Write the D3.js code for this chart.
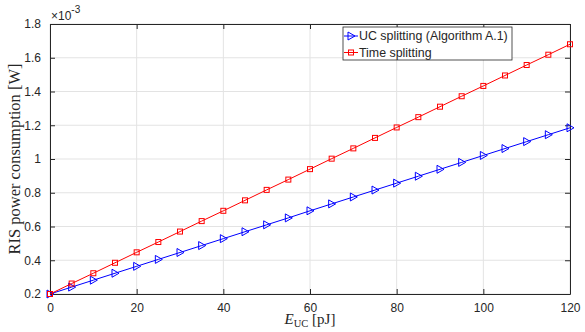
<!DOCTYPE html>
<html lang="en">
<head>
<meta charset="UTF-8">
<script src="https://d3js.org/d3.v7.min.js"></script>
<style>
    body { margin: 0; background: #fff; }
    svg text { font-family: "Liberation Sans", Arial, sans-serif; fill: #262626; }
    .serif { font-family: "Liberation Serif", "DejaVu Serif", serif; }
</style>
<title>RIS power consumption</title>
</head>
<body>
<svg width="585" height="332"></svg>
<script>
    // E_UC values [pJ]
    const energy = [0, 5, 10, 15, 20, 25, 30, 35, 40, 45, 50, 55, 60, 65, 70, 75, 80, 85, 90, 95, 100, 105, 110, 115, 120];
    // power consumption, in units of 1e-3 W
    const ucSplitting = [0.200, 0.241, 0.282, 0.323, 0.364, 0.405, 0.446, 0.487, 0.528, 0.569, 0.610, 0.651, 0.693,
        0.734, 0.775, 0.816, 0.857, 0.898, 0.939, 0.980, 1.021, 1.062, 1.103, 1.144, 1.185];
    const timeSplitting = [0.200, 0.262, 0.323, 0.385, 0.447, 0.508, 0.570, 0.632, 0.693, 0.755, 0.817, 0.878, 0.940,
        1.002, 1.063, 1.125, 1.187, 1.248, 1.310, 1.372, 1.433, 1.495, 1.557, 1.618, 1.680];
    const xTicks = [0, 20, 40, 60, 80, 100, 120];
    const yTicks = [0.2, 0.4, 0.6, 0.8, 1, 1.2, 1.4, 1.6, 1.8];
    const seriesNames = ['UC splitting (Algorithm A.1)', 'Time splitting'];

    const svg = d3.select('svg');
    const margin = { top: 24, right: 15, bottom: 38, left: 50 };
    const width = +svg.attr('width'), height = +svg.attr('height');
    const innerWidth = width - margin.left - margin.right;
    const innerHeight = height - margin.top - margin.bottom;

    const x = d3.scaleLinear().domain([0, 120]).range([0, innerWidth]);
    const y = d3.scaleLinear().domain([0.2, 1.8]).range([innerHeight, 0]);

    const g = svg.append('g').attr('transform', `translate(${margin.left},${margin.top})`);

    // grid
    g.append('g').selectAll('line').data(xTicks).join('line')
        .attr('x1', d => x(d)).attr('x2', d => x(d))
        .attr('y1', 0).attr('y2', innerHeight)
        .attr('stroke', '#e3e3e3').attr('stroke-width', 1);
    g.append('g').selectAll('line').data(yTicks).join('line')
        .attr('y1', d => y(d)).attr('y2', d => y(d))
        .attr('x1', 0).attr('x2', innerWidth)
        .attr('stroke', '#e3e3e3').attr('stroke-width', 1);

    // axes, ticks pointing inwards like matlab
    const styleAxis = sel => {
        sel.select('.domain').attr('stroke', '#262626');
        sel.selectAll('.tick line').attr('stroke', '#262626');
    };
    g.append('g').attr('transform', `translate(0,${innerHeight})`)
        .call(d3.axisBottom(x).tickValues(xTicks).tickSizeInner(-5).tickSizeOuter(0).tickPadding(9))
        .call(styleAxis)
        .call(a => a.selectAll('text').attr('font-size', 12).attr('fill', '#262626').style('font-family', '"Liberation Sans", Arial, sans-serif'));
    g.append('g')
        .call(d3.axisTop(x).tickValues(xTicks).tickSizeInner(-5).tickSizeOuter(0).tickFormat(''))
        .call(styleAxis);
    g.append('g')
        .call(d3.axisLeft(y).tickValues(yTicks).tickSizeInner(-5).tickSizeOuter(0).tickPadding(9).tickFormat(d3.format('~g')))
        .call(styleAxis)
        .call(a => a.selectAll('text').attr('font-size', 12).attr('fill', '#262626').style('font-family', '"Liberation Sans", Arial, sans-serif'));
    g.append('g').attr('transform', `translate(${innerWidth},0)`)
        .call(d3.axisRight(y).tickValues(yTicks).tickSizeInner(-5).tickSizeOuter(0).tickFormat(''))
        .call(styleAxis);

    // exponent label
    const expo = svg.append('text').attr('x', margin.left + 1).attr('y', 20).attr('font-size', 12);
    expo.append('tspan').text('\u00d710');
    expo.append('tspan').attr('dy', -7).attr('font-size', 10).text('-3');

    // series
    const series = [
        { name: seriesNames[0], values: ucSplitting, color: '#0000ff', marker: 'tri' },
        { name: seriesNames[1], values: timeSplitting, color: '#ff0000', marker: 'sq' }
    ];
    const line = d3.line().x(d => x(d[0])).y(d => y(d[1]));
    const drawMarker = (sel, s) => {
        if (s.marker === 'tri') {
            sel.append('path').attr('d', 'M-3,-4L4,0L-3,4Z')
                .attr('fill', 'none').attr('stroke', s.color).attr('stroke-width', 1);
        } else {
            sel.append('rect').attr('x', -2.5).attr('y', -2.5).attr('width', 5).attr('height', 5)
                .attr('fill', 'none').attr('stroke', s.color).attr('stroke-width', 1);
        }
    };
    series.forEach(s => {
        const pts = energy.map((e, i) => [e, s.values[i]]);
        g.append('path').datum(pts).attr('d', line)
            .attr('fill', 'none').attr('stroke', s.color).attr('stroke-width', 1);
        g.append('g').selectAll('g').data(pts).join('g')
            .attr('transform', d => `translate(${x(d[0])},${y(d[1])})`)
            .each(function () { drawMarker(d3.select(this), s); });
    });

    // legend
    const legend = svg.append('g').attr('transform', 'translate(343,27)');
    legend.append('rect').attr('width', 169).attr('height', 33)
        .attr('fill', '#fff').attr('stroke', '#262626').attr('stroke-width', 0.8);
    series.forEach((s, i) => {
        const row = legend.append('g').attr('transform', `translate(0,${9 + i * 16.5})`);
        row.append('line').attr('x1', 1).attr('x2', 15).attr('stroke', s.color).attr('stroke-width', 1);
        drawMarker(row.append('g').attr('transform', 'translate(8,0)'), s);
        row.append('text').attr('x', 16).attr('dy', '0.35em').attr('font-size', 12.4).text(s.name);
    });

    // axis titles
    const xl = svg.append('text').attr('class', 'serif')
        .attr('x', margin.left + innerWidth / 2).attr('y', 324)
        .attr('text-anchor', 'middle').attr('font-size', 15);
    xl.append('tspan').attr('font-style', 'italic').text('E');
    xl.append('tspan').attr('dy', 3).attr('font-size', 10.5).text('UC');
    xl.append('tspan').attr('dy', -3).text(' [pJ]');

    svg.append('text').attr('class', 'serif')
        .attr('transform', `translate(20,${margin.top + innerHeight / 2}) rotate(-90)`)
        .attr('text-anchor', 'middle').attr('font-size', 16.5)
        .text('RIS power consumption [W]');
</script>
</body>
</html>
